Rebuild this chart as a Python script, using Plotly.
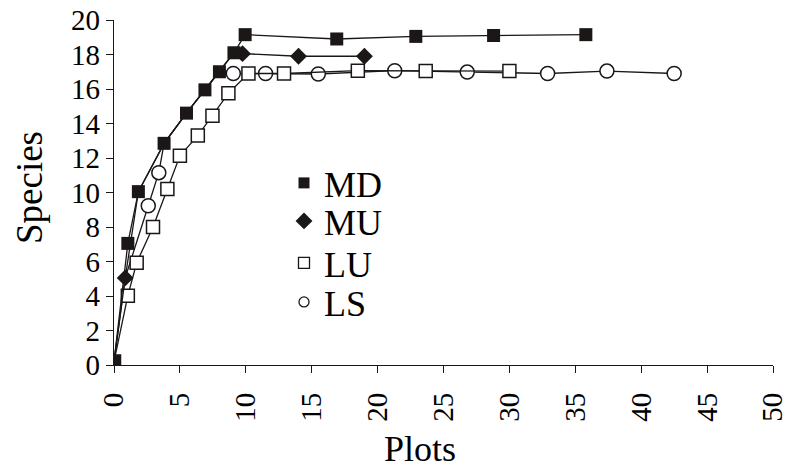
import plotly.graph_objects as go

# ---- data ----
md_x = [0, 1.05, 1.85, 3.8, 5.5, 6.9, 8.0, 9.1, 9.95, 16.9, 22.9, 28.8, 35.8]
md_y = [0.2, 7.05, 10.05, 12.85, 14.6, 15.95, 17.0, 18.1, 19.15, 18.9, 19.05, 19.1, 19.15]

mu_x = [0, 0.85, 1.85, 3.8, 5.5, 6.9, 8.0, 9.1, 9.75, 14.0, 19.0]
mu_y = [0.2, 5.05, 10.05, 12.85, 14.6, 15.95, 17.0, 18.1, 18.05, 17.9, 17.9]

lu_x = [0, 1.05, 1.72, 2.96, 4.05, 5.0, 6.36, 7.47, 8.68, 10.2, 12.9, 18.5, 23.65, 30.0]
lu_y = [0.2, 4.02, 5.93, 8.0, 10.2, 12.13, 13.3, 14.45, 15.75, 16.9, 16.9, 17.06, 17.05, 17.04]

ls_x = [0, 0.85, 2.6, 3.4, 3.8, 5.5, 6.9, 8.0, 9.05, 11.5, 15.5, 21.3, 26.8, 32.9, 37.4, 42.5]
ls_y = [0.2, 5.05, 9.23, 11.15, 12.85, 14.6, 15.95, 17.0, 16.9, 16.9, 16.87, 17.06, 16.98, 16.9, 17.04, 16.9]

series_names = ["MD", "MU", "LU", "LS"]
x_ticks = [0, 5, 10, 15, 20, 25, 30, 35, 40, 45, 50]
y_ticks = [0, 2, 4, 6, 8, 10, 12, 14, 16, 18, 20]

FONT = "Liberation Serif"
BLACK = "#1a1716"

fig = go.Figure()

# LS (open circles) - points that sit under other markers are drawn without a symbol
ls_sizes = [0, 0, 14, 14, 0, 0, 0, 0] + [14] * (len(ls_x) - 8)
fig.add_trace(go.Scatter(
    x=ls_x, y=ls_y, mode="lines+markers", showlegend=False,
    line=dict(color=BLACK, width=1.3),
    marker=dict(symbol="circle", size=ls_sizes, color="white", opacity=1,
                line=dict(color=BLACK, width=1.5)),
))
# LU (open squares)
fig.add_trace(go.Scatter(
    x=lu_x, y=lu_y, mode="lines+markers", showlegend=False,
    line=dict(color=BLACK, width=1.3),
    marker=dict(symbol="square", size=13, color="white", opacity=1,
                line=dict(color=BLACK, width=1.5)),
))
# MU (filled diamonds)
mu_sizes = [0, 13, 0, 0, 0, 0, 0, 0, 13, 13, 13]
fig.add_trace(go.Scatter(
    x=mu_x, y=mu_y, mode="lines+markers", showlegend=False,
    line=dict(color=BLACK, width=1.3),
    marker=dict(symbol="diamond", size=mu_sizes, color=BLACK, opacity=1,
                line=dict(color=BLACK, width=0)),
))
# MD (filled squares)
fig.add_trace(go.Scatter(
    x=md_x, y=md_y, mode="lines+markers", showlegend=False,
    line=dict(color=BLACK, width=1.3),
    marker=dict(symbol="square", size=13, color=BLACK, opacity=1,
                line=dict(color=BLACK, width=0)),
))

# legend entries (marker only, as in the reference)
leg_styles = [
    dict(symbol="square", size=11, color=BLACK, line=dict(color=BLACK, width=0)),
    dict(symbol="diamond", size=13, color=BLACK, line=dict(color=BLACK, width=0)),
    dict(symbol="square", size=11, color="white", line=dict(color=BLACK, width=1.3)),
    dict(symbol="circle", size=10, color="white", line=dict(color=BLACK, width=1.3)),
]
leg_ids = ["legend", "legend2", "legend3", "legend4"]
for name, st, lid in zip(series_names, leg_styles, leg_ids):
    fig.add_trace(go.Scatter(x=[None], y=[None], mode="markers", name=name,
                             marker=st, legend=lid, showlegend=True))

FW, FH = 793, 472
# plot area in page pixels: x 114..773, y 20..365
L, R, T, B = 114, FW - 773, 20, FH - 365
W, H = FW - L - R, FH - T - B

def px_x(p):
    return (p - L) / W

def px_y(p):
    return (FH - B - p) / H

leg_rows = [183, 221, 263, 302]
leg_common = dict(font=dict(family=FONT, size=36, color="black"),
                  bgcolor="rgba(0,0,0,0)", borderwidth=0,
                  xanchor="left", yanchor="middle", x=px_x(284))
layout_legends = {}
for lid, row in zip(leg_ids, leg_rows):
    layout_legends[lid] = dict(leg_common, y=px_y(row))

axis_common = dict(ticks="outside", ticklen=7, tickwidth=1.2, tickcolor=BLACK,
                   showline=True, linecolor=BLACK, linewidth=1.2,
                   showgrid=False, zeroline=False, automargin=False,
                   ticklabeloverflow="allow",
                   tickfont=dict(family=FONT, size=29, color="black"))

fig.update_layout(
    template="none",
    width=FW, height=FH,
    margin=dict(l=L, r=R, t=T, b=B, pad=0),
    paper_bgcolor="white", plot_bgcolor="white",
    font=dict(family=FONT, color="black"),
    xaxis=dict(axis_common, range=[0, 50], tickvals=x_ticks,
               ticktext=[str(v) for v in x_ticks], tickangle=-90,
               ticklabelstandoff=8),
    yaxis=dict(axis_common, range=[0, 20], tickvals=y_ticks,
               ticktext=[str(v) for v in y_ticks]),
    annotations=[
        dict(text="Species", xref="paper", yref="paper", x=px_x(29), y=px_y(188),
             showarrow=False, textangle=-90, xanchor="center", yanchor="middle",
             font=dict(family=FONT, size=37, color="black")),
        dict(text="Plots", xref="paper", yref="paper", x=px_x(420), y=px_y(449),
             showarrow=False, xanchor="center", yanchor="middle",
             font=dict(family=FONT, size=36, color="black")),
    ],
    **layout_legends,
)

# remove the browser's default 8px body margin so the figure fills the window
fig.write_html("out.html", config={"displayModeBar": False},
               post_script="document.body.style.margin='0px';")
